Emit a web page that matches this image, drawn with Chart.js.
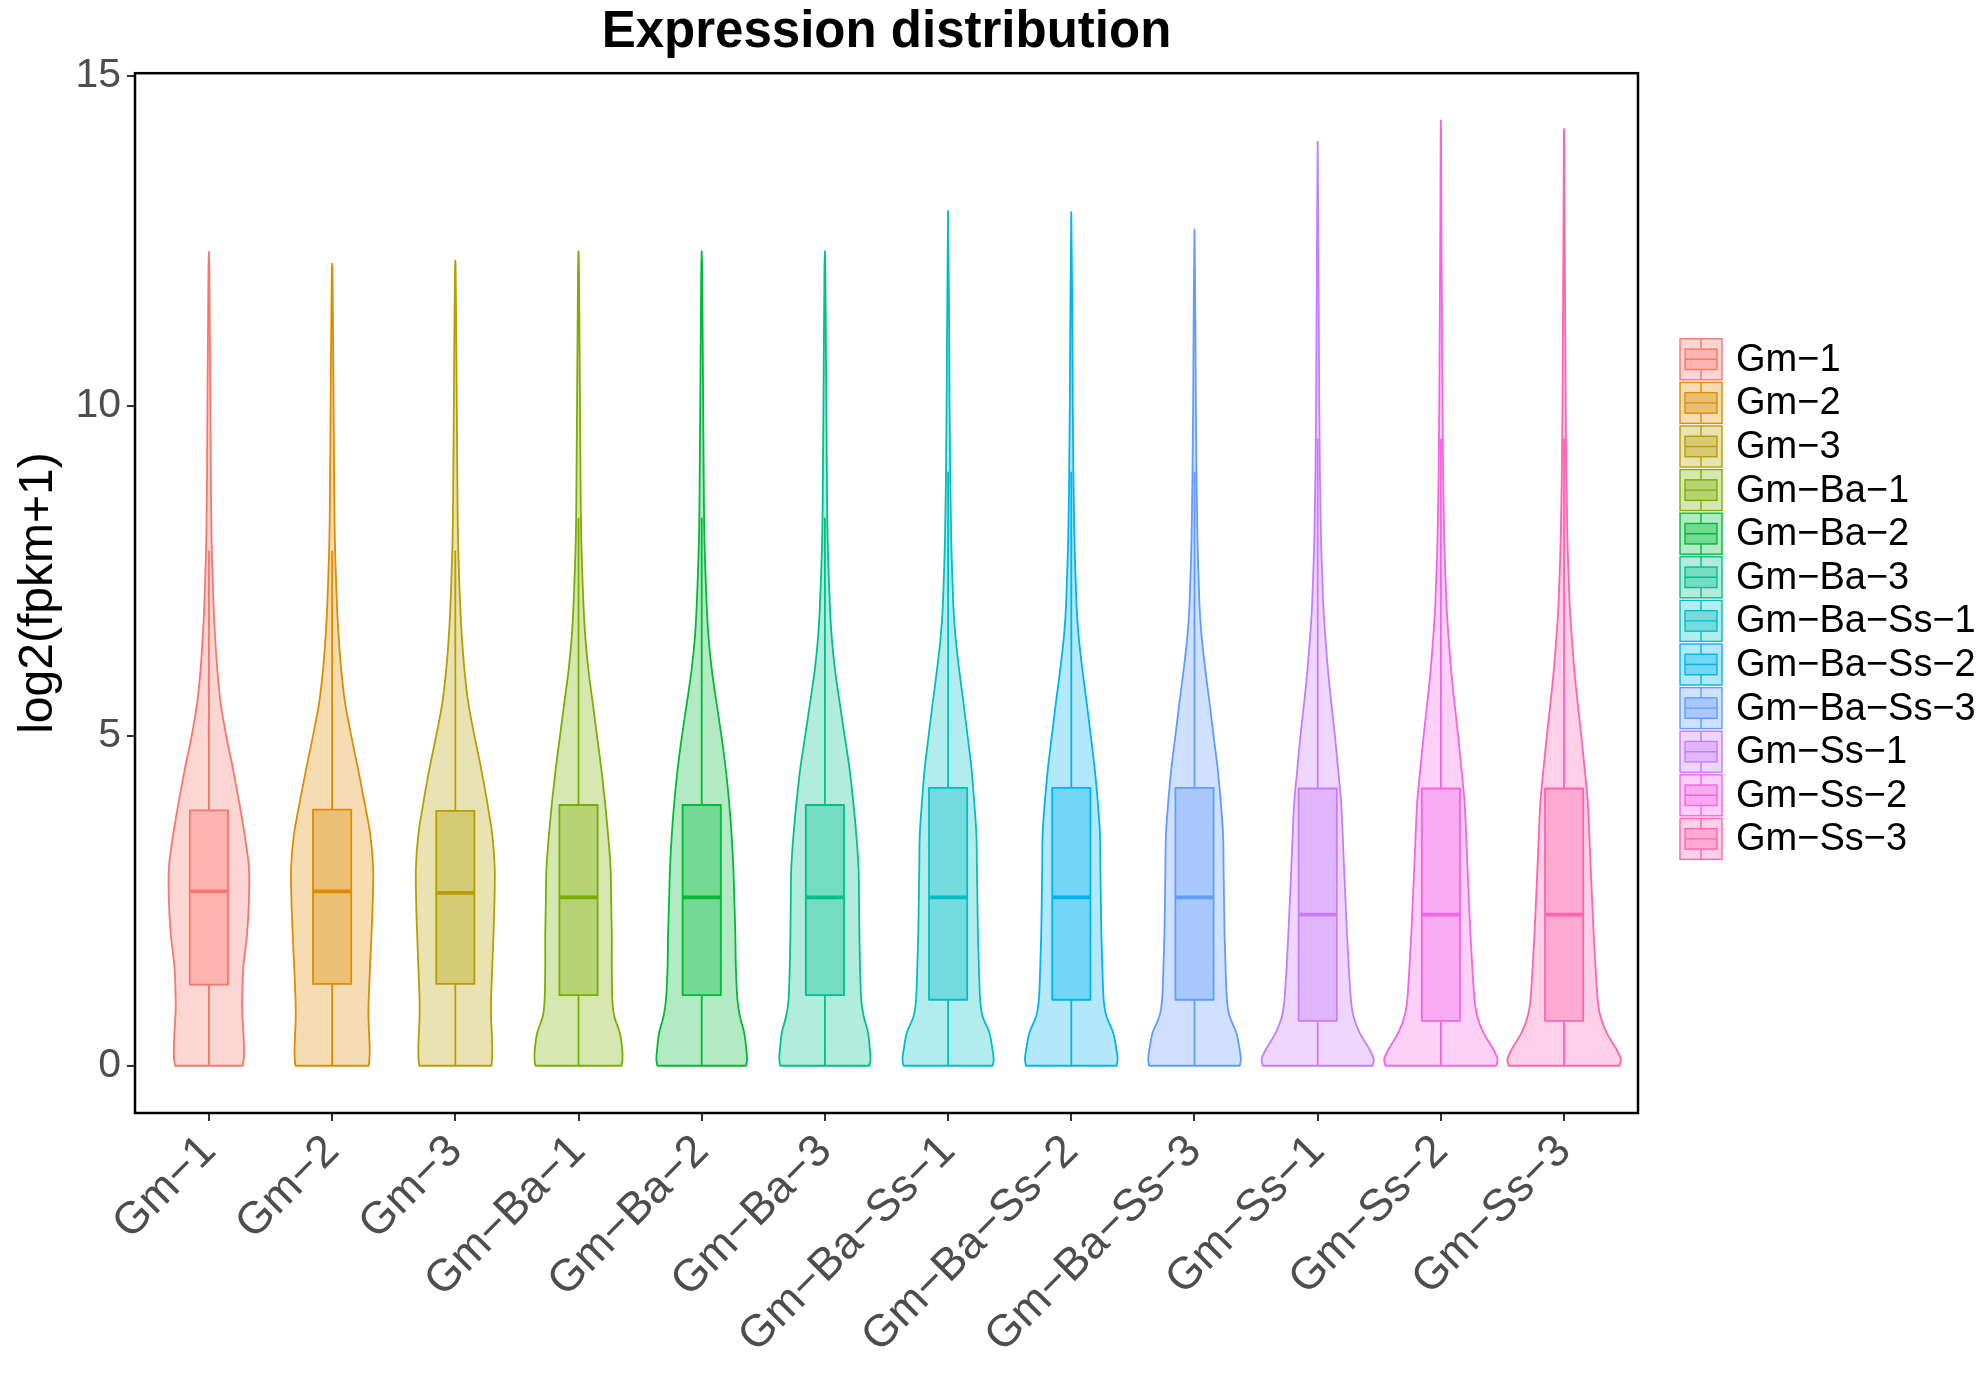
<!DOCTYPE html>
<html lang="en">
<head>
<meta charset="UTF-8">
<title>Expression distribution</title>
<script src="https://cdn.jsdelivr.net/npm/chart.js"></script>
<style>
  html, body { margin: 0; padding: 0; background: #fff; }
  #wrap { width: 1983px; height: 1378px; }
</style>
</head>
<body>
<div id="wrap"><canvas id="violinChart" width="1983" height="1378"></canvas></div>
<script>
// samples, in plot order
var groups = ['Gm\u22121', 'Gm\u22122', 'Gm\u22123', 'Gm\u2212Ba\u22121', 'Gm\u2212Ba\u22122', 'Gm\u2212Ba\u22123',
              'Gm\u2212Ba\u2212Ss\u22121', 'Gm\u2212Ba\u2212Ss\u22122', 'Gm\u2212Ba\u2212Ss\u22123',
              'Gm\u2212Ss\u22121', 'Gm\u2212Ss\u22122', 'Gm\u2212Ss\u22123'];
var colors = ['#F8766D', '#DE8C00', '#B79F00', '#7CAE00', '#00BA38', '#00C08B',
              '#00BFC4', '#00B4F0', '#619CFF', '#C77CFF', '#F564E3', '#FF64B0'];

// box plot stats, log2(fpkm+1)
var boxLow    = [1.23, 1.24, 1.24, 1.07, 1.07, 1.07, 1.00, 1.00, 1.00, 0.68, 0.68, 0.68];
var boxMedian = [2.64, 2.64, 2.62, 2.55, 2.55, 2.55, 2.55, 2.55, 2.55, 2.29, 2.29, 2.29];
var boxHigh   = [3.87, 3.88, 3.86, 3.95, 3.95, 3.95, 4.21, 4.21, 4.21, 4.20, 4.20, 4.20];
var whiskerTop = [7.8, 7.8, 7.8, 8.3, 8.3, 8.3, 9.0, 9.0, 9.0, 9.5, 9.5, 9.5];
var violinMax  = [12.33, 12.15, 12.20, 12.34, 12.34, 12.34, 12.95, 12.93, 12.67, 14.00, 14.32, 14.19];

// violin half widths (x units) read at these levels
var densityY = [0, 0.1, 0.25, 0.5, 0.75, 1, 1.5, 2, 2.5, 3, 3.5, 4, 4.5, 5, 5.5, 6, 6.5, 7, 8, 9, 10, 11, 12, 13, 14];
var halfWidth = [
  [0.275, 0.283, 0.285, 0.28, 0.272, 0.27, 0.28, 0.31, 0.325, 0.325, 0.29, 0.245, 0.195, 0.14, 0.095, 0.068, 0.05, 0.037, 0.021, 0.015, 0.012, 0.008, 0.004, 0, 0],
  [0.298, 0.303, 0.305, 0.3, 0.295, 0.297, 0.308, 0.32, 0.33, 0.333, 0.31, 0.262, 0.21, 0.155, 0.105, 0.074, 0.053, 0.039, 0.022, 0.016, 0.012, 0.008, 0.003, 0, 0],
  [0.293, 0.298, 0.3, 0.296, 0.29, 0.29, 0.3, 0.31, 0.318, 0.32, 0.3, 0.258, 0.21, 0.155, 0.105, 0.074, 0.053, 0.039, 0.022, 0.016, 0.012, 0.008, 0.003, 0, 0],
  [0.35, 0.357, 0.355, 0.335, 0.29, 0.275, 0.27, 0.27, 0.265, 0.26, 0.24, 0.215, 0.185, 0.15, 0.115, 0.08, 0.055, 0.04, 0.022, 0.016, 0.012, 0.008, 0.004, 0, 0],
  [0.36, 0.368, 0.362, 0.345, 0.31, 0.29, 0.277, 0.273, 0.265, 0.257, 0.243, 0.222, 0.195, 0.16, 0.12, 0.082, 0.055, 0.04, 0.022, 0.016, 0.012, 0.008, 0.004, 0, 0],
  [0.362, 0.37, 0.365, 0.35, 0.315, 0.295, 0.285, 0.28, 0.277, 0.273, 0.255, 0.23, 0.2, 0.16, 0.12, 0.082, 0.055, 0.04, 0.022, 0.016, 0.012, 0.008, 0.004, 0, 0],
  [0.362, 0.37, 0.36, 0.335, 0.28, 0.26, 0.25, 0.242, 0.238, 0.234, 0.23, 0.212, 0.19, 0.158, 0.125, 0.09, 0.06, 0.042, 0.025, 0.017, 0.012, 0.009, 0.005, 0, 0],
  [0.368, 0.376, 0.366, 0.34, 0.285, 0.263, 0.252, 0.244, 0.24, 0.236, 0.233, 0.215, 0.19, 0.158, 0.125, 0.09, 0.06, 0.042, 0.025, 0.017, 0.012, 0.009, 0.005, 0, 0],
  [0.368, 0.376, 0.366, 0.34, 0.285, 0.263, 0.252, 0.244, 0.24, 0.236, 0.232, 0.213, 0.188, 0.155, 0.122, 0.088, 0.058, 0.04, 0.024, 0.016, 0.011, 0.008, 0.004, 0, 0],
  [0.445, 0.455, 0.42, 0.34, 0.29, 0.27, 0.252, 0.238, 0.226, 0.214, 0.203, 0.19, 0.165, 0.14, 0.11, 0.083, 0.062, 0.045, 0.027, 0.018, 0.013, 0.01, 0.007, 0.004, 0.002],
  [0.45, 0.46, 0.425, 0.345, 0.295, 0.273, 0.255, 0.24, 0.228, 0.216, 0.205, 0.192, 0.167, 0.14, 0.11, 0.083, 0.062, 0.045, 0.027, 0.018, 0.013, 0.01, 0.007, 0.004, 0.002],
  [0.45, 0.46, 0.425, 0.345, 0.295, 0.273, 0.255, 0.24, 0.228, 0.216, 0.205, 0.192, 0.167, 0.14, 0.11, 0.083, 0.062, 0.045, 0.027, 0.018, 0.013, 0.01, 0.007, 0.004, 0.002]
];
var yTicks = [0, 5, 10, 15];

var BOX_HALF = 0.155;

function rgba(hex, a) {
  var n = parseInt(hex.slice(1), 16);
  return 'rgba(' + (n >> 16) + ',' + ((n >> 8) & 255) + ',' + (n & 255) + ',' + a + ')';
}

// catmull-rom through pixel points, path already positioned at pts[0]
function smoothThrough(ctx, pts) {
  for (var j = 0; j < pts.length - 1; j++) {
    var p0 = pts[Math.max(j - 1, 0)], p1 = pts[j], p2 = pts[j + 1], p3 = pts[Math.min(j + 2, pts.length - 1)];
    ctx.bezierCurveTo(p1.x + (p2.x - p0.x) / 6, p1.y + (p2.y - p0.y) / 6,
                      p2.x - (p3.x - p1.x) / 6, p2.y - (p3.y - p1.y) / 6,
                      p2.x, p2.y);
  }
}

var violinPlugin = {
  id: 'violins',
  beforeDatasetsDraw: function (chart) {
    var ctx = chart.ctx, xs = chart.scales.x, ys = chart.scales.y;
    ctx.save();
    groups.forEach(function (g, i) {
      var col = colors[i];
      var right = [], left = [];
      for (var k = 0; k < densityY.length; k++) {
        if (densityY[k] >= violinMax[i]) break;
        right.push({x: xs.getPixelForValue(i + halfWidth[i][k]), y: ys.getPixelForValue(densityY[k])});
        left.push({x: xs.getPixelForValue(i - halfWidth[i][k]), y: ys.getPixelForValue(densityY[k])});
      }
      var tip = {x: xs.getPixelForValue(i), y: ys.getPixelForValue(violinMax[i])};
      right.push(tip);
      left.push(tip);
      left.reverse();

      // violin
      ctx.beginPath();
      ctx.moveTo(right[0].x, right[0].y);
      smoothThrough(ctx, right);
      smoothThrough(ctx, left);
      ctx.closePath();
      ctx.fillStyle = rgba(col, 0.3);
      ctx.fill();
      ctx.lineWidth = 1.8;
      ctx.lineJoin = 'round';
      ctx.strokeStyle = col;
      ctx.stroke();

      // whiskers
      var cx = xs.getPixelForValue(i);
      ctx.beginPath();
      ctx.moveTo(cx, ys.getPixelForValue(boxHigh[i]));
      ctx.lineTo(cx, ys.getPixelForValue(whiskerTop[i]));
      ctx.moveTo(cx, ys.getPixelForValue(boxLow[i]));
      ctx.lineTo(cx, ys.getPixelForValue(0));
      ctx.lineWidth = 1.8;
      ctx.stroke();

      // box
      var bx0 = xs.getPixelForValue(i - BOX_HALF), bx1 = xs.getPixelForValue(i + BOX_HALF);
      var by0 = ys.getPixelForValue(boxHigh[i]), by1 = ys.getPixelForValue(boxLow[i]);
      ctx.fillStyle = rgba(col, 0.35);
      ctx.fillRect(bx0, by0, bx1 - bx0, by1 - by0);
      ctx.strokeRect(bx0, by0, bx1 - bx0, by1 - by0);
      var my = ys.getPixelForValue(boxMedian[i]);
      ctx.beginPath();
      ctx.moveTo(bx0, my);
      ctx.lineTo(bx1, my);
      ctx.lineWidth = 3.8;
      ctx.stroke();
    });
    ctx.restore();
  },
  afterDraw: function (chart) {
    var ctx = chart.ctx, a = chart.chartArea;
    ctx.save();
    // panel border
    ctx.strokeStyle = '#000';
    ctx.lineWidth = 2.5;
    ctx.strokeRect(a.left, a.top, a.right - a.left, a.bottom - a.top);

    // legend
    var keyW = 42, keyH = 41, step = 43.6;
    var keyLeft = a.right + 42;
    var first = (a.top + a.bottom) / 2 + 6 - step * (groups.length - 1) / 2;
    ctx.font = '38px "Liberation Sans", Arial, sans-serif';
    ctx.textBaseline = 'middle';
    ctx.textAlign = 'left';
    groups.forEach(function (g, i) {
      var col = colors[i];
      var cy = first + i * step, top = cy - keyH / 2;
      ctx.fillStyle = rgba(col, 0.3);
      ctx.fillRect(keyLeft, top, keyW, keyH);
      ctx.strokeStyle = col;
      ctx.lineWidth = 1.4;
      ctx.strokeRect(keyLeft, top, keyW, keyH);
      var ix0 = keyLeft + keyW * 0.12, ix1 = keyLeft + keyW * 0.88;
      ctx.fillStyle = rgba(col, 0.35);
      ctx.fillRect(ix0, top + keyH * 0.25, ix1 - ix0, keyH * 0.5);
      ctx.strokeRect(ix0, top + keyH * 0.25, ix1 - ix0, keyH * 0.5);
      ctx.beginPath();
      ctx.moveTo(keyLeft + keyW / 2, top);
      ctx.lineTo(keyLeft + keyW / 2, top + keyH * 0.25);
      ctx.moveTo(keyLeft + keyW / 2, top + keyH * 0.75);
      ctx.lineTo(keyLeft + keyW / 2, top + keyH);
      ctx.moveTo(ix0, cy);
      ctx.lineTo(ix1, cy);
      ctx.stroke();
      ctx.fillStyle = '#000';
      ctx.fillText(g, keyLeft + 56, cy + 1);
    });
    ctx.restore();
  }
};

Chart.defaults.font.family = '"Liberation Sans", Arial, sans-serif';

var ctx = document.getElementById('violinChart').getContext('2d');
var violinChart = new Chart(ctx, {
  type: 'scatter',
  data: {
    datasets: groups.map(function (g, i) {
      return {label: g, data: [{x: i, y: boxMedian[i]}], pointRadius: 0, borderColor: colors[i], backgroundColor: colors[i]};
    })
  },
  options: {
    responsive: false,
    animation: false,
    devicePixelRatio: 1,
    layout: {padding: {left: 10, right: 345, top: 0, bottom: 0}},
    plugins: {
      legend: {display: false},
      tooltip: {enabled: false},
      title: {
        display: true,
        fullSize: false,
        text: 'Expression distribution',
        color: '#000',
        font: {size: 51, weight: 'bold'},
        padding: {top: 2, bottom: 10}
      }
    },
    scales: {
      x: {
        type: 'linear',
        min: -0.6,
        max: 11.6,
        afterBuildTicks: function (scale) {
          scale.ticks = groups.map(function (g, i) { return {value: i}; });
        },
        afterFit: function (scale) { scale.height = 265; },
        ticks: {
          autoSkip: false,
          minRotation: 45,
          maxRotation: 45,
          padding: 4,
          color: '#4D4D4D',
          font: {size: 45},
          callback: function (v) { return groups[v]; }
        },
        grid: {drawOnChartArea: false, drawTicks: true, tickLength: 8, color: '#333', lineWidth: 2},
        border: {display: false}
      },
      y: {
        min: -0.716,
        max: 15.036,
        afterBuildTicks: function (scale) {
          scale.ticks = yTicks.map(function (v) { return {value: v}; });
        },
        afterFit: function (scale) { scale.width = 125; },
        ticks: {color: '#4D4D4D', font: {size: 41}, padding: 6},
        grid: {drawOnChartArea: false, drawTicks: true, tickLength: 8, color: '#333', lineWidth: 2},
        border: {display: false},
        title: {display: true, text: 'log2(fpkm+1)', color: '#000', font: {size: 48}, padding: 0}
      }
    }
  },
  plugins: [violinPlugin]
});
</script>
</body>
</html>
